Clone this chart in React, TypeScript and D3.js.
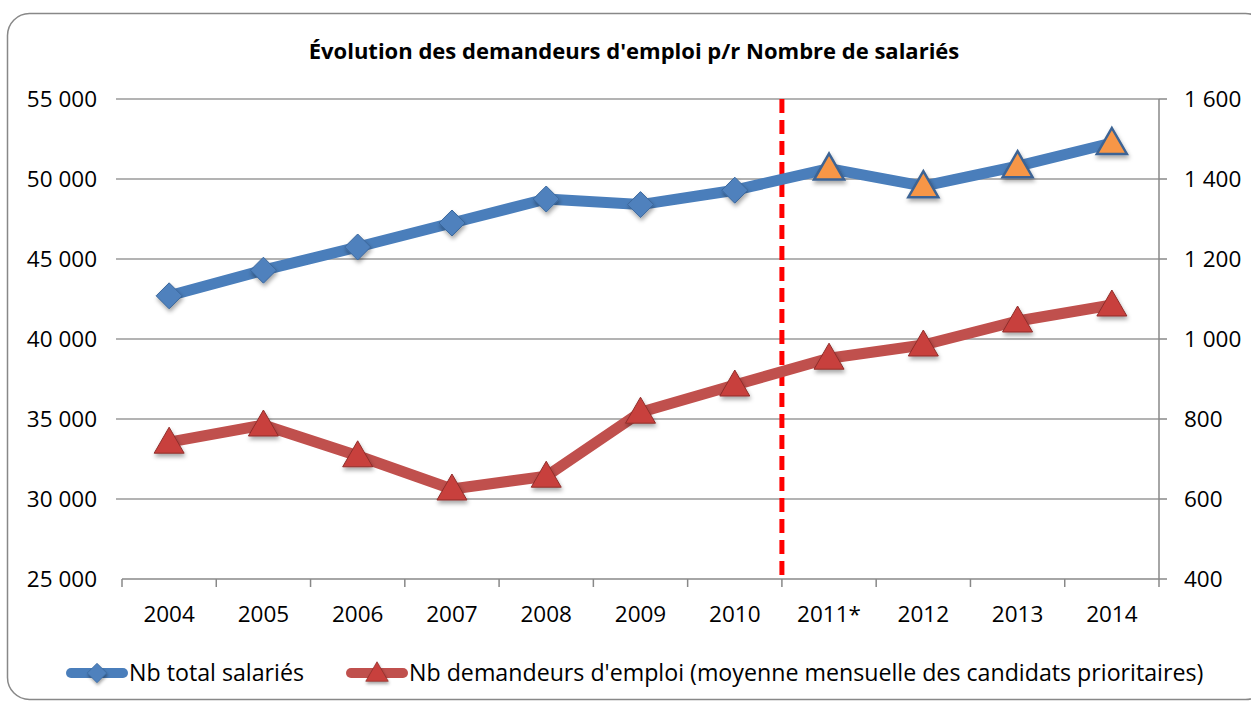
import * as d3 from "d3";
import { useEffect, useRef } from "react";

const years = ["2004", "2005", "2006", "2007", "2008", "2009", "2010", "2011*", "2012", "2013", "2014"];
const salaries = [42700, 44300, 45750, 47250, 48750, 48400, 49300, 50650, 49550, 50800, 52250];
const demandeurs = [742, 785, 708, 625, 657, 817, 885, 952, 985, 1045, 1085];
const leftTicks = [25000, 30000, 35000, 40000, 45000, 50000, 55000];
const rightTicks = [400, 600, 800, 1000, 1200, 1400, 1600];
// the years after the dashed line are forecasts (orange triangles)
const forecastFrom = 7;

const W = 1251, H = 702;
const FONT = "'Open Sans', Lato, sans-serif";
const fmt = (v: number) => d3.format(",")(v).replace(/,/g, " ");

const App = () => {
    const ref = useRef<SVGSVGElement>(null);

    useEffect(() => {
        const svg = d3.select(ref.current);
        svg.selectAll("*").remove();

        const left = 122, right = 1159, top = 99, bottom = 579;

        const defs = svg.append("defs");
        const f = defs.append("filter").attr("id", "shadow").attr("x", "-50%").attr("y", "-50%").attr("width", "200%").attr("height", "200%");
        f.append("feDropShadow").attr("dx", 1).attr("dy", 3).attr("stdDeviation", 2).attr("flood-color", "#000").attr("flood-opacity", 0.35);

        // chart border
        svg.append("rect")
            .attr("x", 7.5).attr("y", 13.5).attr("width", 1260).attr("height", 686)
            .attr("rx", 22).attr("fill", "#fff").attr("stroke", "#888").attr("stroke-width", 1.5);

        svg.append("text")
            .attr("x", 634).attr("y", 59).attr("text-anchor", "middle")
            .attr("font-family", FONT).attr("font-weight", "bold").attr("font-size", 22)
            .text("Évolution des demandeurs d'emploi p/r Nombre de salariés");

        const x = d3.scaleBand().domain(years).range([left, right]);
        const yL = d3.scaleLinear().domain([25000, 55000]).range([bottom, top]);
        const yR = d3.scaleLinear().domain([400, 1600]).range([bottom, top]);
        const cx = (i: number) => x(years[i])! + x.bandwidth() / 2;

        // gridlines
        svg.append("g").selectAll("line").data(leftTicks.slice(1)).enter().append("line")
            .attr("x1", left - 6).attr("x2", right).attr("y1", d => yL(d)).attr("y2", d => yL(d))
            .attr("stroke", "#9a9a9a").attr("stroke-width", 1.5);

        svg.append("g").selectAll("text").data(leftTicks).enter().append("text")
            .attr("x", 97).attr("y", d => yL(d) + 8).attr("text-anchor", "end")
            .attr("font-family", FONT).attr("font-size", 22.5).text(d => fmt(d));

        // right axis
        svg.append("line").attr("x1", right).attr("x2", right).attr("y1", top).attr("y2", bottom)
            .attr("stroke", "#888").attr("stroke-width", 1.5);
        svg.append("g").selectAll("line").data(rightTicks).enter().append("line")
            .attr("x1", right).attr("x2", right + 8).attr("y1", d => yR(d)).attr("y2", d => yR(d))
            .attr("stroke", "#888").attr("stroke-width", 1.5);
        svg.append("g").selectAll("text").data(rightTicks).enter().append("text")
            .attr("x", 1184).attr("y", d => yR(d) + 8)
            .attr("font-family", FONT).attr("font-size", 22.5).text(d => fmt(d));

        // bottom axis
        svg.append("line").attr("x1", left).attr("x2", right).attr("y1", bottom).attr("y2", bottom)
            .attr("stroke", "#888").attr("stroke-width", 1.5);
        svg.append("g").selectAll("line").data(d3.range(years.length + 1)).enter().append("line")
            .attr("x1", i => left + i * x.step()).attr("x2", i => left + i * x.step())
            .attr("y1", bottom).attr("y2", bottom + 8)
            .attr("stroke", "#888").attr("stroke-width", 1.5);
        svg.append("g").selectAll("text").data(years).enter().append("text")
            .attr("x", (d, i) => cx(i)).attr("y", 622).attr("text-anchor", "middle")
            .attr("font-family", FONT).attr("font-size", 22.5).text(d => d);

        // dashed separator
        const sepX = left + forecastFrom * x.step();
        svg.append("line").attr("x1", sepX).attr("x2", sepX).attr("y1", top).attr("y2", bottom)
            .attr("stroke", "#ff0000").attr("stroke-width", 5).attr("stroke-dasharray", "14,7");

        // blue series
        svg.append("path")
            .attr("d", d3.line<number>().x((d, i) => cx(i)).y(d => yL(d))(salaries))
            .attr("fill", "none").attr("stroke", "#4a7ebb").attr("stroke-width", 11).attr("stroke-linejoin", "round");

        // red series
        svg.append("path")
            .attr("d", d3.line<number>().x((d, i) => cx(i)).y(d => yR(d))(demandeurs))
            .attr("fill", "none").attr("stroke", "#c0504d").attr("stroke-width", 11).attr("stroke-linejoin", "round");

        const diamond = "M0,-13L13,0L0,13L-13,0Z";
        const tri = "M0,-15L15,11L-15,11Z";

        svg.append("g").selectAll("path").data(salaries).enter().append("path")
            .attr("transform", (d, i) => `translate(${cx(i)},${yL(d)})`)
            .attr("d", (d, i) => i < forecastFrom ? diamond : tri)
            .attr("fill", (d, i) => i < forecastFrom ? "#4f81bd" : "#f79646")
            .attr("stroke", (d, i) => i < forecastFrom ? "#3a679c" : "#3c6494")
            .attr("stroke-width", (d, i) => i < forecastFrom ? 1 : 2.5)
            .attr("filter", "url(#shadow)");

        svg.append("g").selectAll("path").data(demandeurs).enter().append("path")
            .attr("transform", (d, i) => `translate(${cx(i)},${yR(d)})`)
            .attr("d", tri)
            .attr("fill", "#c8403c").attr("stroke", "#8f2d2a").attr("stroke-width", 1)
            .attr("filter", "url(#shadow)");

        // legend
        const leg = [
            { x: 67, color: "#4a7ebb", mark: diamond, fill: "#4f81bd", stroke: "#3a679c", label: "Nb total salariés" },
            { x: 347, color: "#c0504d", mark: tri, fill: "#c8403c", stroke: "#8f2d2a", label: "Nb demandeurs d'emploi (moyenne mensuelle des candidats prioritaires)" },
        ];
        const lg = svg.append("g").selectAll("g").data(leg).enter().append("g")
            .attr("transform", d => `translate(${d.x},673)`);
        lg.append("line").attr("x1", 4).attr("x2", 56).attr("y1", 0).attr("y2", 0)
            .attr("stroke", d => d.color).attr("stroke-width", 10).attr("stroke-linecap", "round");
        lg.append("path").attr("d", d => d.mark)
            .attr("transform", "translate(30,0) scale(0.75)")
            .attr("fill", d => d.fill).attr("stroke", d => d.stroke).attr("filter", "url(#shadow)");
        lg.append("text").attr("x", 62).attr("y", 8)
            .attr("font-family", FONT).attr("font-size", 23.2).text(d => d.label);
    }, []);

    return <svg ref={ref} width={W} height={H} style={{ position: "absolute", left: 0, top: 0 }} />;
};

export default App;
